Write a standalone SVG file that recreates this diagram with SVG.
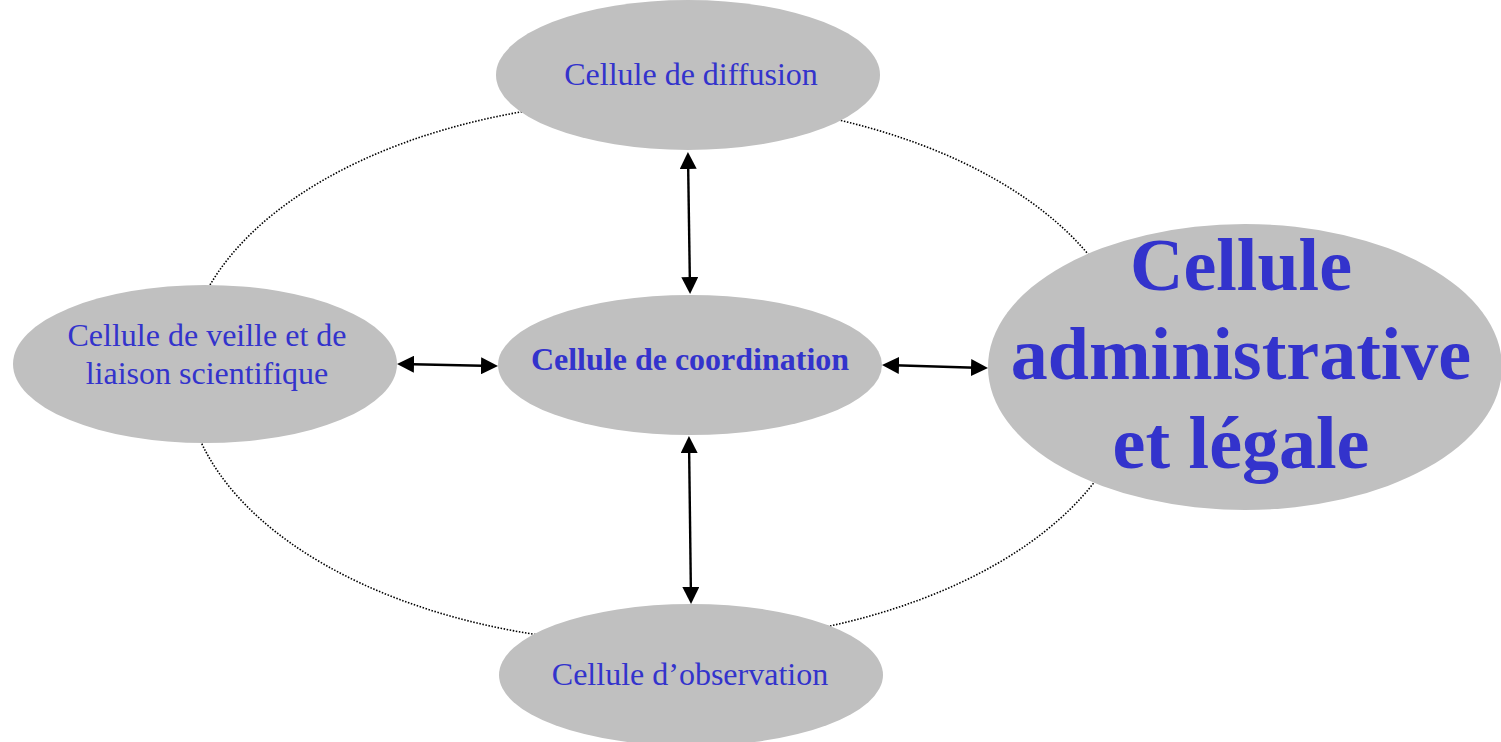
<svg xmlns="http://www.w3.org/2000/svg" width="1501" height="742" viewBox="0 0 1501 742">
  <style>
    .cell { fill: #c0c0c0; stroke: none; }
    .lbl { font-family: "Liberation Serif", "Times New Roman", serif; fill: #3333cc; text-anchor: middle; }
    .reg { font-size: 32px; }
    .bold { font-weight: bold; }
    .big { font-size: 74px; font-weight: bold; }
    .ring { fill: none; stroke: #000; stroke-width: 1.6; stroke-dasharray: 1.5 1.6; }
    .link { fill: none; stroke: #000; stroke-width: 2.4; marker-start: url(#head); marker-end: url(#head); }
  </style>
  <defs>
    <marker id="head" viewBox="0 0 17 17" markerUnits="userSpaceOnUse" markerWidth="17" markerHeight="17" refX="13" refY="8.5" orient="auto-start-reverse">
      <path d="M0,0 L17,8.5 L0,17 z" fill="#000"/>
    </marker>
  </defs>

  <rect width="1501" height="742" fill="#fff"/>

  <!-- dotted ring linking the outer cells -->
  <ellipse class="ring" cx="660" cy="372" rx="475" ry="272"/>

  <!-- connectors -->
  <g id="connectors">
    <line class="link" x1="688" y1="156" x2="690" y2="290"/>
    <line class="link" x1="689" y1="440" x2="691" y2="600"/>
    <line class="link" x1="401" y1="364" x2="494" y2="366"/>
    <line class="link" x1="886" y1="365" x2="984" y2="368"/>
  </g>

  <g id="node-diffusion">
    <ellipse class="cell" cx="688" cy="75" rx="192" ry="75"/>
    <text class="lbl reg" x="691" y="85">Cellule de diffusion</text>
  </g>

  <g id="node-veille">
    <ellipse class="cell" cx="205" cy="364" rx="192" ry="79"/>
    <text class="lbl reg" x="207" y="346">Cellule de veille et de</text>
    <text class="lbl reg" x="207" y="384">liaison scientifique</text>
  </g>

  <g id="node-coordination">
    <ellipse class="cell" cx="690" cy="365" rx="192" ry="70"/>
    <text class="lbl reg bold" x="690" y="370">Cellule de coordination</text>
  </g>

  <g id="node-observation">
    <ellipse class="cell" cx="691" cy="675" rx="192" ry="71"/>
    <text class="lbl reg" x="690" y="685">Cellule d’observation</text>
  </g>

  <g id="node-administrative">
    <ellipse class="cell" cx="1245" cy="367" rx="257" ry="143"/>
    <text class="lbl big" x="1241" y="290">Cellule</text>
    <text class="lbl big" x="1241" y="379">administrative</text>
    <text class="lbl big" x="1241" y="468">et légale</text>
  </g>
</svg>
